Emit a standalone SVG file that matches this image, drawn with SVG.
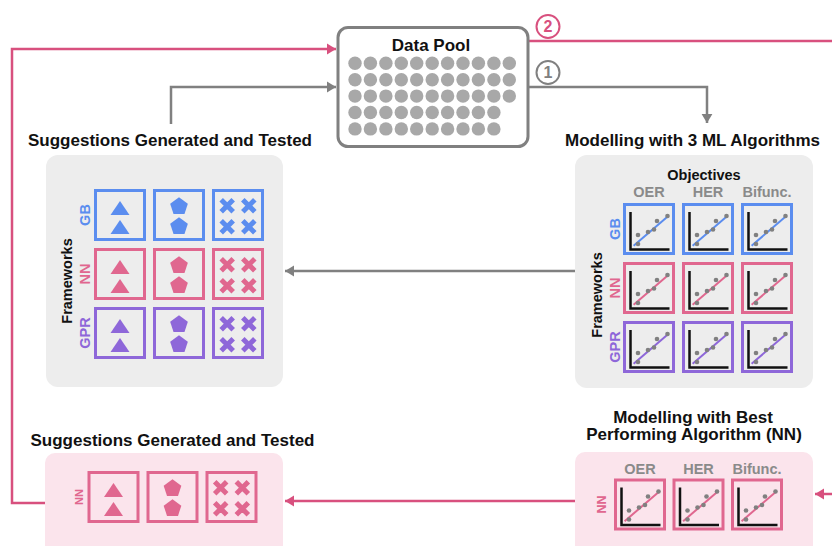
<svg xmlns="http://www.w3.org/2000/svg" xmlns:xlink="http://www.w3.org/1999/xlink" width="832" height="546" viewBox="0 0 832 546">
<style>
text{font-family:"Liberation Sans",Arial,sans-serif;font-weight:bold}
.title{font-size:17px;fill:#111;text-anchor:middle}
.lab{font-size:14.5px;text-anchor:middle}
.hdr{font-size:14.5px;fill:#8a8a8a;text-anchor:middle}
.blue{fill:#5b8def;stroke:#5b8def;color:#5b8def}
.pink{fill:#e0678f;stroke:#e0678f;color:#e0678f}
.purp{fill:#8e67d9;stroke:#8e67d9;color:#8e67d9}
.box{fill:none;stroke-width:3}
.gpanel{fill:#ededed}
.ppanel{fill:#fbe4ec}
.gline{fill:none;stroke:#808080;stroke-width:2.5}
.pline{fill:none;stroke:#d8507e;stroke-width:2.5}
.dot{fill:#a8a8a8}
text.blue,text.pink,text.purp{stroke:none}
</style>
<defs>
<marker id="ag" viewBox="0 0 10 12" refX="10" refY="6" markerWidth="9" markerHeight="12" markerUnits="userSpaceOnUse" orient="auto"><path d="M0,0 L10,6 L0,12 z" fill="#808080"/></marker>
<marker id="ap" viewBox="0 0 10 12" refX="10" refY="6" markerWidth="9" markerHeight="12" markerUnits="userSpaceOnUse" orient="auto"><path d="M0,0 L10,6 L0,12 z" fill="#d8507e"/></marker>
<g id="tri" stroke="none"><polygon points="0,-14 -9.5,0 9.5,0"/><polygon points="0,5 -9.5,19 9.5,19"/></g>
<g id="pent" stroke="none"><polygon points="0,-17.8 8.84,-11.37 5.47,-0.98 -5.47,-0.98 -8.84,-11.37"/><polygon points="0,2.2 8.84,8.63 5.47,19.02 -5.47,19.02 -8.84,8.63"/></g>
<g id="cross" fill="none" stroke-width="5"><path d="M4.8,-15.3 L16.8,-3.3 M16.8,-15.3 L4.8,-3.3 M-16.8,-15.3 L-4.8,-3.3 M-4.8,-15.3 L-16.8,-3.3 M4.8,5.8 L16.8,17.8 M16.8,5.8 L4.8,17.8 M-16.8,5.8 L-4.8,17.8 M-4.8,5.8 L-16.8,17.8"/></g>
<g id="chart"><path d="M-18.5,-17 V20.5 H20.5" fill="none" stroke="#111" stroke-width="2.5"/><path d="M-15.4,16.7 L19.6,-13.3" fill="none" stroke="currentColor" stroke-width="2"/><g fill="#808080" stroke="none"><circle cx="-11" cy="15" r="2.3"/><circle cx="-11" cy="6" r="2.3"/><circle cx="-1" cy="3" r="2.3"/><circle cx="5" cy="0.5" r="2.3"/><circle cx="8" cy="-8" r="2.3"/><circle cx="18.5" cy="-13" r="2.3"/></g></g>
<rect id="bx" class="box" x="-24.5" y="-24.5" width="49" height="49"/>
</defs>
<rect width="832" height="546" fill="#ffffff"/>

<g id="connectors">
<path class="pline" d="M528,41 H840"/>
<path class="pline" d="M840,494 H815" marker-end="url(#ap)"/>
<path class="pline" d="M575,501 H285" marker-end="url(#ap)"/>
<path class="pline" d="M46,503 H12 V49 H336" marker-end="url(#ap)"/>
<path class="gline" d="M171,124 V87 H336" marker-end="url(#ag)"/>
<path class="gline" d="M528,87 H707 V123" marker-end="url(#ag)"/>
<path class="gline" d="M575,271 H285" marker-end="url(#ag)"/>
<g id="step-2"><circle cx="548" cy="26.5" r="11.5" fill="none" stroke="#d8507e" stroke-width="2"/><text x="548" y="32.3" font-size="16" fill="#d8507e" text-anchor="middle">2</text></g>
<g id="step-1"><circle cx="548" cy="72.5" r="11.5" fill="none" stroke="#808080" stroke-width="2"/><text x="548" y="78.3" font-size="16" fill="#808080" text-anchor="middle">1</text></g>
</g>

<g id="data-pool">
<rect x="338" y="27.5" width="190" height="119" rx="10" fill="#fff" stroke="#808080" stroke-width="3"/>
<text class="title" x="431" y="51">Data Pool</text>
<g class="dots">
<circle class="dot" cx="355" cy="63.3" r="6.7"/><circle class="dot" cx="370.4" cy="63.3" r="6.7"/><circle class="dot" cx="385.9" cy="63.3" r="6.7"/><circle class="dot" cx="401.3" cy="63.3" r="6.7"/><circle class="dot" cx="416.7" cy="63.3" r="6.7"/><circle class="dot" cx="432.2" cy="63.3" r="6.7"/><circle class="dot" cx="447.6" cy="63.3" r="6.7"/><circle class="dot" cx="463" cy="63.3" r="6.7"/><circle class="dot" cx="478.4" cy="63.3" r="6.7"/><circle class="dot" cx="493.9" cy="63.3" r="6.7"/><circle class="dot" cx="509.3" cy="63.3" r="6.7"/>
<circle class="dot" cx="355" cy="79.7" r="6.7"/><circle class="dot" cx="370.4" cy="79.7" r="6.7"/><circle class="dot" cx="385.9" cy="79.7" r="6.7"/><circle class="dot" cx="401.3" cy="79.7" r="6.7"/><circle class="dot" cx="416.7" cy="79.7" r="6.7"/><circle class="dot" cx="432.2" cy="79.7" r="6.7"/><circle class="dot" cx="447.6" cy="79.7" r="6.7"/><circle class="dot" cx="463" cy="79.7" r="6.7"/><circle class="dot" cx="478.4" cy="79.7" r="6.7"/><circle class="dot" cx="493.9" cy="79.7" r="6.7"/><circle class="dot" cx="509.3" cy="79.7" r="6.7"/>
<circle class="dot" cx="355" cy="96.1" r="6.7"/><circle class="dot" cx="370.4" cy="96.1" r="6.7"/><circle class="dot" cx="385.9" cy="96.1" r="6.7"/><circle class="dot" cx="401.3" cy="96.1" r="6.7"/><circle class="dot" cx="416.7" cy="96.1" r="6.7"/><circle class="dot" cx="432.2" cy="96.1" r="6.7"/><circle class="dot" cx="447.6" cy="96.1" r="6.7"/><circle class="dot" cx="463" cy="96.1" r="6.7"/><circle class="dot" cx="478.4" cy="96.1" r="6.7"/><circle class="dot" cx="493.9" cy="96.1" r="6.7"/><circle class="dot" cx="509.3" cy="96.1" r="6.7"/>
<circle class="dot" cx="355" cy="112.5" r="6.7"/><circle class="dot" cx="370.4" cy="112.5" r="6.7"/><circle class="dot" cx="385.9" cy="112.5" r="6.7"/><circle class="dot" cx="401.3" cy="112.5" r="6.7"/><circle class="dot" cx="416.7" cy="112.5" r="6.7"/><circle class="dot" cx="432.2" cy="112.5" r="6.7"/><circle class="dot" cx="447.6" cy="112.5" r="6.7"/><circle class="dot" cx="463" cy="112.5" r="6.7"/><circle class="dot" cx="478.4" cy="112.5" r="6.7"/><circle class="dot" cx="493.9" cy="112.5" r="6.7"/>
<circle class="dot" cx="355" cy="128.9" r="6.7"/><circle class="dot" cx="370.4" cy="128.9" r="6.7"/><circle class="dot" cx="385.9" cy="128.9" r="6.7"/><circle class="dot" cx="401.3" cy="128.9" r="6.7"/><circle class="dot" cx="416.7" cy="128.9" r="6.7"/><circle class="dot" cx="432.2" cy="128.9" r="6.7"/><circle class="dot" cx="447.6" cy="128.9" r="6.7"/><circle class="dot" cx="463" cy="128.9" r="6.7"/><circle class="dot" cx="478.4" cy="128.9" r="6.7"/><circle class="dot" cx="493.9" cy="128.9" r="6.7"/>
</g>
</g>

<g id="suggestions-top">
<text class="title" x="170" y="146">Suggestions Generated and Tested</text>
<rect class="gpanel" x="46" y="155" width="237" height="232" rx="12"/>
<text class="lab" transform="translate(71.5,281) rotate(-90)" fill="#111">Frameworks</text>
<text class="lab blue" transform="translate(89.5,215) rotate(-90)">GB</text>
<text class="lab pink" transform="translate(89.5,274) rotate(-90)">NN</text>
<text class="lab purp" transform="translate(89.5,333) rotate(-90)">GPR</text>
<g class="blue"><use xlink:href="#bx" x="120" y="215"/><use xlink:href="#bx" x="179" y="215"/><use xlink:href="#bx" x="238" y="215"/><use xlink:href="#tri" x="120" y="215"/><use xlink:href="#pent" x="179" y="215"/><use xlink:href="#cross" x="238" y="215"/></g>
<g class="pink"><use xlink:href="#bx" x="120" y="274"/><use xlink:href="#bx" x="179" y="274"/><use xlink:href="#bx" x="238" y="274"/><use xlink:href="#tri" x="120" y="274"/><use xlink:href="#pent" x="179" y="274"/><use xlink:href="#cross" x="238" y="274"/></g>
<g class="purp"><use xlink:href="#bx" x="120" y="333"/><use xlink:href="#bx" x="179" y="333"/><use xlink:href="#bx" x="238" y="333"/><use xlink:href="#tri" x="120" y="333"/><use xlink:href="#pent" x="179" y="333"/><use xlink:href="#cross" x="238" y="333"/></g>
</g>

<g id="modelling-top">
<text class="title" x="692.5" y="146">Modelling with 3 ML Algorithms</text>
<rect class="gpanel" x="575" y="155" width="238" height="233" rx="12"/>
<text class="lab" x="704" y="180" fill="#111">Objectives</text>
<text class="hdr" x="649" y="197">OER</text>
<text class="hdr" x="708" y="197">HER</text>
<text class="hdr" x="767" y="197">Bifunc.</text>
<text class="lab" transform="translate(601.5,295) rotate(-90)" fill="#111">Frameworks</text>
<text class="lab blue" transform="translate(620,229) rotate(-90)">GB</text>
<text class="lab pink" transform="translate(620,288) rotate(-90)">NN</text>
<text class="lab purp" transform="translate(620,347) rotate(-90)">GPR</text>
<g class="blue"><use xlink:href="#bx" x="649" y="229"/><use xlink:href="#bx" x="708" y="229"/><use xlink:href="#bx" x="767" y="229"/><use xlink:href="#chart" x="649" y="229"/><use xlink:href="#chart" x="708" y="229"/><use xlink:href="#chart" x="767" y="229"/></g>
<g class="pink"><use xlink:href="#bx" x="649" y="288"/><use xlink:href="#bx" x="708" y="288"/><use xlink:href="#bx" x="767" y="288"/><use xlink:href="#chart" x="649" y="288"/><use xlink:href="#chart" x="708" y="288"/><use xlink:href="#chart" x="767" y="288"/></g>
<g class="purp"><use xlink:href="#bx" x="649" y="347"/><use xlink:href="#bx" x="708" y="347"/><use xlink:href="#bx" x="767" y="347"/><use xlink:href="#chart" x="649" y="347"/><use xlink:href="#chart" x="708" y="347"/><use xlink:href="#chart" x="767" y="347"/></g>
</g>

<g id="suggestions-bottom">
<text class="title" x="172.5" y="446">Suggestions Generated and Tested</text>
<rect class="ppanel" x="45" y="453" width="238" height="110" rx="10"/>
<text class="pink" transform="translate(83,497) rotate(-90)" font-size="11" text-anchor="middle">NN</text>
<g class="pink"><use xlink:href="#bx" x="113.5" y="497"/><use xlink:href="#bx" x="172.5" y="497"/><use xlink:href="#bx" x="231.5" y="497"/><use xlink:href="#tri" x="113.5" y="497"/><use xlink:href="#pent" x="172.5" y="497"/><use xlink:href="#cross" x="231.5" y="497"/></g>
</g>

<g id="modelling-bottom">
<text class="title" x="693" y="422.5">Modelling with Best</text>
<text class="title" x="694" y="440">Performing Algorithm (NN)</text>
<rect class="ppanel" x="575" y="452" width="238" height="110" rx="10"/>
<text class="hdr" x="640" y="474">OER</text>
<text class="hdr" x="698.5" y="474">HER</text>
<text class="hdr" x="757" y="474">Bifunc.</text>
<text class="pink" transform="translate(605.5,504.5) rotate(-90)" font-size="12.5" text-anchor="middle">NN</text>
<g class="pink"><use xlink:href="#bx" x="640" y="504.5"/><use xlink:href="#bx" x="698.5" y="504.5"/><use xlink:href="#bx" x="757" y="504.5"/><use xlink:href="#chart" x="640" y="504.5"/><use xlink:href="#chart" x="698.5" y="504.5"/><use xlink:href="#chart" x="757" y="504.5"/></g>
</g>
</svg>
